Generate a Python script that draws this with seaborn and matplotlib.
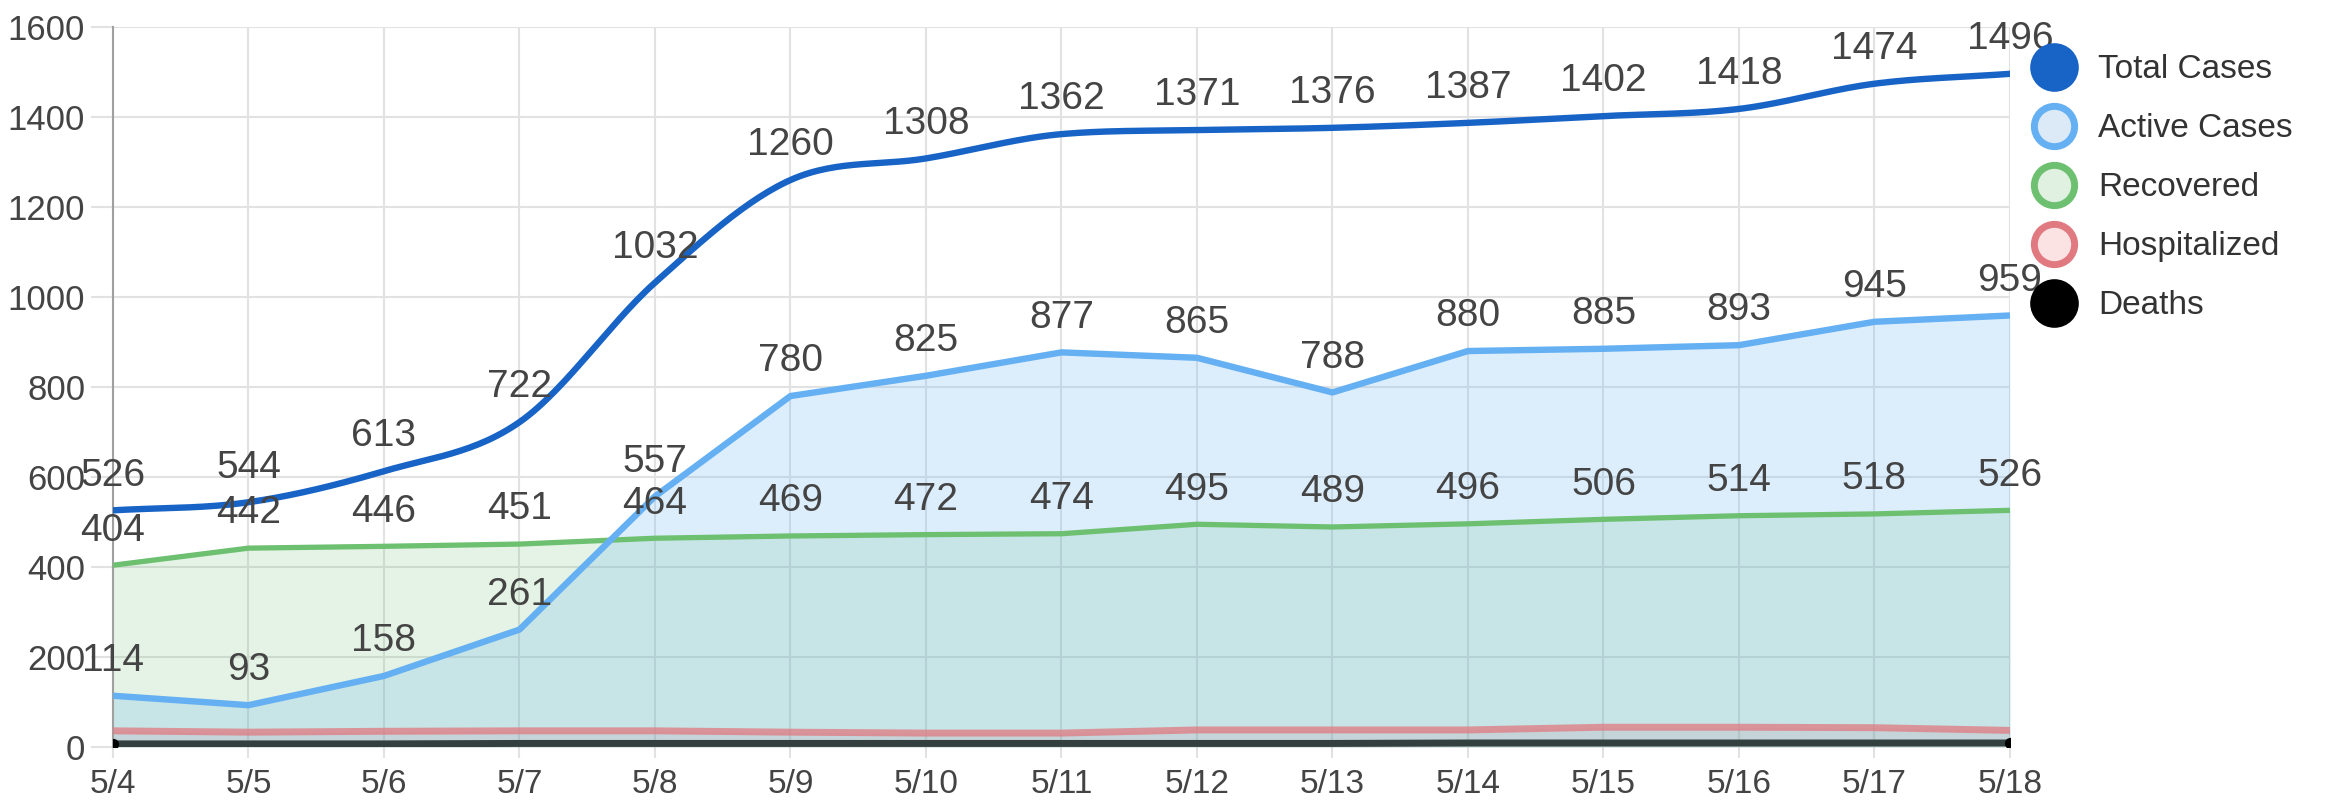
import numpy as np
import pandas as pd
import matplotlib
matplotlib.use("Agg")
import matplotlib.pyplot as plt
from matplotlib.lines import Line2D
import seaborn as sns

dates = ["5/4", "5/5", "5/6", "5/7", "5/8", "5/9", "5/10", "5/11", "5/12",
         "5/13", "5/14", "5/15", "5/16", "5/17", "5/18"]
total_cases = [526, 544, 613, 722, 1032, 1260, 1308, 1362, 1371, 1376, 1387, 1402, 1418, 1474, 1496]
active_cases = [114, 93, 158, 261, 557, 780, 825, 877, 865, 788, 880, 885, 893, 945, 959]
recovered = [404, 442, 446, 451, 464, 469, 472, 474, 495, 489, 496, 506, 514, 518, 526]
hospitalized = [36, 33, 35, 36, 36, 33, 31, 31, 38, 38, 38, 44, 44, 43, 37]
deaths = [7, 7, 7, 8, 8, 8, 8, 8, 8, 8, 9, 9, 9, 9, 9]
y_ticks = [0, 200, 400, 600, 800, 1000, 1200, 1400, 1600]
series_names = ["Total Cases", "Active Cases", "Recovered", "Hospitalized", "Deaths"]

sns.set_theme(style="white")
plt.rcParams["font.family"] = ["Liberation Sans", "DejaVu Sans"]

C_TOTAL = "#1763c6"
C_ACTIVE = "#64b0f2"
C_REC = "#6cc070"
C_HOSP = "#e07a80"
C_DEATH = "#000000"
TXT = "#444444"


def monotone_curve(x, y, n=30):
    x = np.asarray(x, float)
    y = np.asarray(y, float)
    d = np.diff(y) / np.diff(x)
    m = np.zeros_like(y)
    m[0], m[-1] = d[0], d[-1]
    for k in range(1, len(y) - 1):
        m[k] = 0.0 if d[k - 1] * d[k] <= 0 else (d[k - 1] + d[k]) / 2
    for k in range(len(d)):
        if d[k] == 0:
            m[k] = m[k + 1] = 0
            continue
        a, b = m[k] / d[k], m[k + 1] / d[k]
        s = a * a + b * b
        if s > 9:
            t = 3 / np.sqrt(s)
            m[k], m[k + 1] = t * a * d[k], t * b * d[k]
    xs, ys = [], []
    for k in range(len(d)):
        h = x[k + 1] - x[k]
        t = np.linspace(0, 1, n, endpoint=(k == len(d) - 1))
        h00 = 2 * t**3 - 3 * t**2 + 1
        h10 = t**3 - 2 * t**2 + t
        h01 = -2 * t**3 + 3 * t**2
        h11 = t**3 - t**2
        xs.append(x[k] + t * h)
        ys.append(h00 * y[k] + h10 * h * m[k] + h01 * y[k + 1] + h11 * h * m[k + 1])
    return np.concatenate(xs), np.concatenate(ys)


pos = np.arange(len(dates))
df = pd.DataFrame({"pos": pos, "total": total_cases, "active": active_cases,
                   "recovered": recovered, "hosp": hospitalized, "deaths": deaths})

fig = plt.figure(figsize=(23.25, 8.09), dpi=100)
ax = fig.add_axes([0.0486, 0.0766, 0.8159, 0.890])

# fills
ax.fill_between(df["pos"], 0, df["hosp"], color=C_HOSP, alpha=0.18, lw=0, zorder=1)
ax.fill_between(df["pos"], 0, df["recovered"], color=C_REC, alpha=0.18, lw=0, zorder=1)
ax.fill_between(df["pos"], 0, df["active"], color=C_ACTIVE, alpha=0.22, lw=0, zorder=1)

# lines
sns.lineplot(data=df, x="pos", y="deaths", ax=ax, color="#33403f", lw=5,
             solid_capstyle="round", zorder=3)
ax.scatter([pos[0], pos[-1]], [deaths[0], deaths[-1]], s=50, color="black", zorder=4)
sns.lineplot(data=df, x="pos", y="hosp", ax=ax, color=C_HOSP, alpha=0.75, lw=5, zorder=3)
sns.lineplot(data=df, x="pos", y="recovered", ax=ax, color=C_REC, lw=3.8, zorder=3)
sns.lineplot(data=df, x="pos", y="active", ax=ax, color=C_ACTIVE, lw=4.6, zorder=3)
sx, sy = monotone_curve(pos, total_cases)
sns.lineplot(x=sx, y=sy, ax=ax, color=C_TOTAL, lw=4.6, zorder=3, sort=False)

# labels
for series in (total_cases, active_cases, recovered):
    for xi, v in zip(pos, series):
        ax.annotate(str(v), (xi, v), xytext=(0, 25), textcoords="offset points",
                    ha="center", va="center", fontsize=28, color=TXT, zorder=5)

ax.set_xlim(0, len(dates) - 1)
ax.set_ylim(0, 1600)
ax.set_xticks(pos)
ax.set_xticklabels(dates)
ax.set_yticks(y_ticks)
ax.set_xlabel("")
ax.set_ylabel("")
ax.grid(True, color="#e2e2e2", lw=1.5, zorder=0)
ax.set_axisbelow(True)
for s in ["top", "right", "bottom"]:
    ax.spines[s].set_visible(False)
ax.spines["left"].set_color("#a0a0a0")
ax.spines["left"].set_linewidth(1.5)
ax.tick_params(axis="y", length=16, width=1.5, color="#e2e2e2", pad=4,
               labelsize=25, labelcolor=TXT, left=True)
ax.tick_params(axis="x", length=8, width=1.5, color="#e2e2e2", pad=8,
               labelsize=24, labelcolor=TXT, bottom=True)

handles = [
    Line2D([], [], ls="none", marker="o", ms=32, mfc=C_TOTAL, mec=C_TOTAL, mew=3),
    Line2D([], [], ls="none", marker="o", ms=29, mfc="#dceaf8", mec=C_ACTIVE, mew=5),
    Line2D([], [], ls="none", marker="o", ms=29, mfc="#e0f1e1", mec=C_REC, mew=5),
    Line2D([], [], ls="none", marker="o", ms=29, mfc="#fbe3e4", mec=C_HOSP, mew=5),
    Line2D([], [], ls="none", marker="o", ms=32, mfc="black", mec="black", mew=3),
]
leg = fig.legend(handles, series_names, loc="upper left", bbox_to_anchor=(0.8748, 0.933),
                 frameon=False, fontsize=24, handlelength=1.2, handletextpad=0.73,
                 labelspacing=0.84, borderaxespad=0, borderpad=0)
for t in leg.get_texts():
    t.set_color("#333333")

fig.savefig("out.png", dpi=100)
